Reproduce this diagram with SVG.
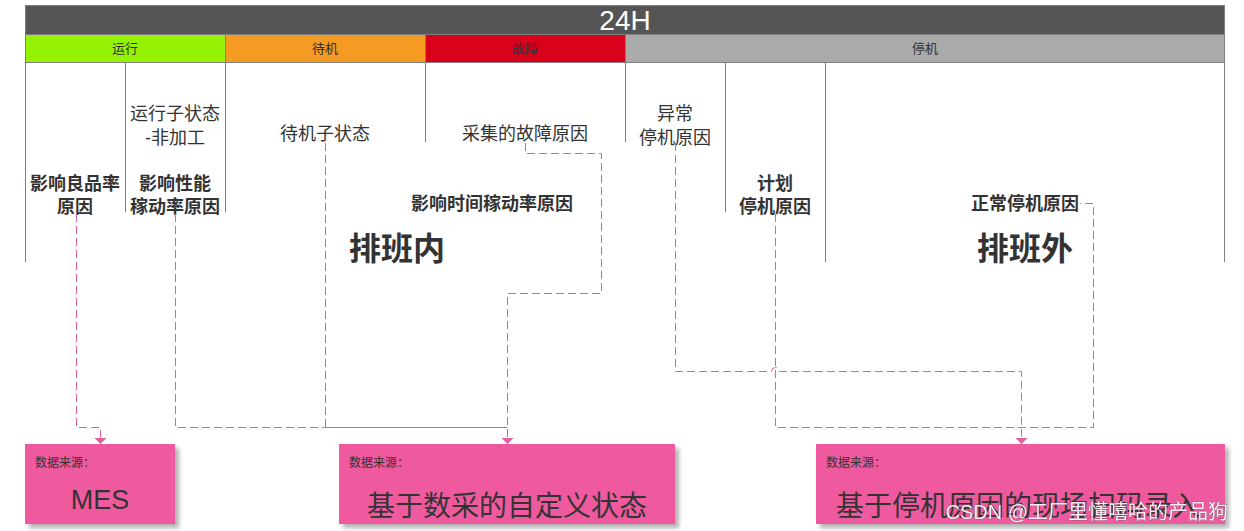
<svg xmlns="http://www.w3.org/2000/svg" width="1244" height="531" viewBox="0 0 1244 531">
<style>
text{font-family:"Liberation Sans","Noto Sans CJK SC",sans-serif;fill:#333333;text-anchor:middle;dominant-baseline:central}
.hdr{font-size:13px}
.sub{font-size:18px}
.bold{font-size:18px;font-weight:bold}
.big{font-size:32px;font-weight:bold}
.cell{stroke:#7F7F7F;stroke-width:1}
.vl{stroke:#7F7F7F;stroke-width:1;fill:none}
.conn{fill:none;stroke:#E0609C;stroke-width:1;stroke-dasharray:8 4}
.box{fill:#EF5A9F}
.src{font-size:12px;text-anchor:start}
.val{font-size:27px}
</style>
<defs>
<marker id="arr" viewBox="0 0 6 12" refX="6" refY="6" markerWidth="6" markerHeight="12" markerUnits="userSpaceOnUse" orient="auto">
<path d="M0,0 L6,6 L0,12 Z" fill="#E0609C"/>
</marker>
<filter id="sh" x="-10%" y="-20%" width="120%" height="150%">
<feDropShadow dx="4" dy="4" stdDeviation="2" flood-color="#000" flood-opacity="0.3"/>
</filter>
</defs>

<g id="header">
<rect class="cell" x="25.5" y="5.5" width="1199" height="29" fill="#555555"/>
<text x="625" y="20" style="fill:#ffffff;font-size:28px">24H</text>
</g>
<g id="state-run">
<rect class="cell" x="25.5" y="34.5" width="200" height="28" fill="#95F204"/>
<text class="hdr" x="125" y="48">运行</text>
</g>
<g id="state-standby">
<rect class="cell" x="225.5" y="34.5" width="200" height="28" fill="#F59A23"/>
<text class="hdr" x="325" y="48">待机</text>
</g>
<g id="state-fault">
<rect class="cell" x="425.5" y="34.5" width="200" height="28" fill="#D9001B"/>
<text class="hdr" x="525" y="48">故障</text>
</g>
<g id="state-stop">
<rect class="cell" x="625.5" y="34.5" width="599" height="28" fill="#AAAAAA"/>
<text class="hdr" x="925" y="48">停机</text>
</g>

<g id="columns">
<path class="vl" d="M25.5,62 V262 M125.5,62 V212 M225.5,62 V212 M425.5,62 V142 M625.5,62 V142 M725.5,62 V212 M825.5,62 V262 M1224.5,62 V262"/>
</g>

<g id="run-sub">
<text class="sub" x="175" y="114">运行子状态</text>
<text class="sub" x="175" y="138">-非加工</text>
</g>
<g id="standby-sub">
<text class="sub" x="325" y="134">待机子状态</text>
</g>
<g id="fault-reason">
<text class="sub" x="525" y="134">采集的故障原因</text>
</g>
<g id="abnormal-stop">
<text class="sub" x="675" y="114">异常</text>
<text class="sub" x="675" y="138">停机原因</text>
</g>
<g id="quality-reason">
<text class="bold" x="75" y="184">影响良品率</text>
<text class="bold" x="75" y="207">原因</text>
</g>
<g id="perf-reason">
<text class="bold" x="175" y="184">影响性能</text>
<text class="bold" x="175" y="207">稼动率原因</text>
</g>
<g id="time-reason">
<text class="bold" x="492" y="204">影响时间稼动率原因</text>
</g>
<g id="in-shift">
<text class="big" x="397" y="249">排班内</text>
</g>
<g id="planned-stop">
<text class="bold" x="775" y="184">计划</text>
<text class="bold" x="775" y="207">停机原因</text>
</g>
<g id="normal-stop">
<text class="bold" x="1025" y="204">正常停机原因</text>
</g>
<g id="out-shift">
<text class="big" x="1025" y="249">排班外</text>
</g>

<g id="connectors">
<path class="conn" d="M76.5,214 V427.5 H100.5 V444" marker-end="url(#arr)"/>
<path class="conn" d="M175.5,214 V427.5 H507.5"/>
<path class="conn" d="M325.5,143 V427.5 H507.5"/>
<path class="conn" d="M525.5,143 V153.5 H601.5 V293.5 H507.5 V444" marker-end="url(#arr)"/>
<path class="conn" d="M675.5,143 V371.5 H771.5 A4,4 0 0 1 779.5,371.5 H1021.5 V444" marker-end="url(#arr)"/>
<path class="conn" d="M775.5,214 V427.5 H1093.5 V203.5 H1080"/>
</g>

<g id="src-mes">
<rect class="box" x="25" y="444" width="150" height="80" filter="url(#sh)"/>
<text class="src" x="35" y="463">数据来源：</text>
<text class="val" x="100" y="500">MES</text>
</g>
<g id="src-daq">
<rect class="box" x="339" y="444" width="336" height="80" filter="url(#sh)"/>
<text class="src" x="349" y="463">数据来源：</text>
<text class="val" x="507" y="506" style="font-size:28px">基于数采的自定义状态</text>
</g>
<g id="src-scan">
<rect class="box" x="816" y="444" width="409" height="80" filter="url(#sh)"/>
<text class="src" x="826" y="463">数据来源：</text>
<text class="val" x="1018" y="506" style="font-size:28px">基于停机原因的现场扫码录入</text>
</g>

<text x="1228" y="512" style="font-size:20px;text-anchor:end;fill:#ffffff;stroke:#555555;stroke-width:0.6;paint-order:stroke;opacity:0.9">CSDN @工厂里懂嘻哈的产品狗</text>
</svg>
